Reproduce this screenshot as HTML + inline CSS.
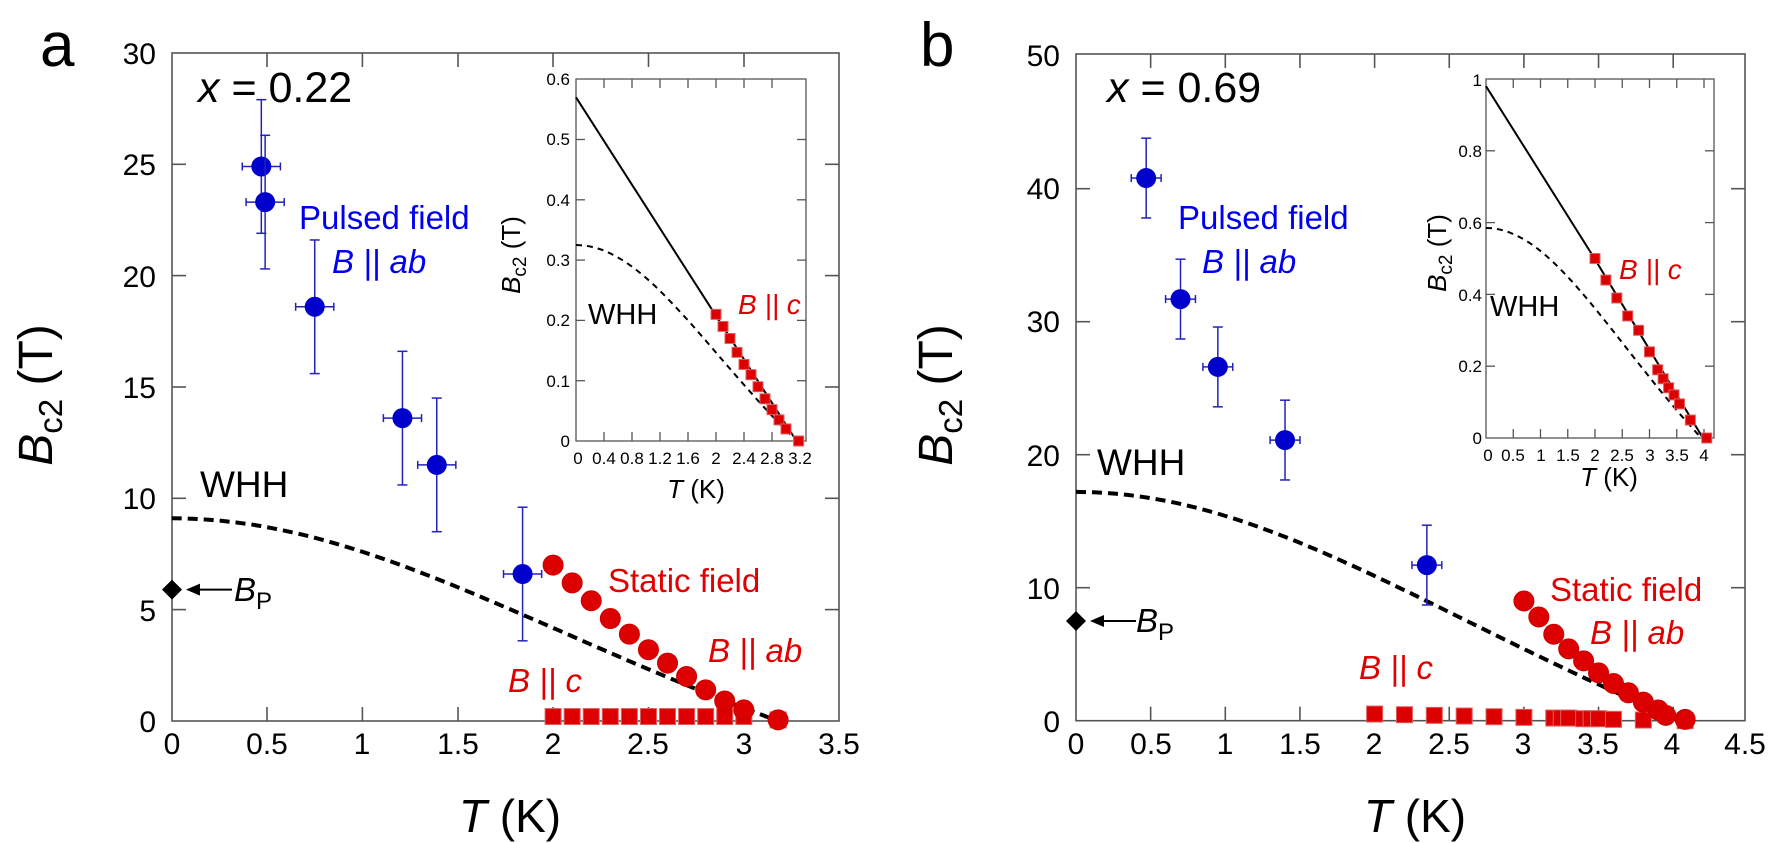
<!DOCTYPE html>
<html><head><meta charset="utf-8"><style>
html,body{margin:0;padding:0;background:#fff;}
svg{display:block;font-family:"Liberation Sans",Arial,sans-serif;}
</style></head><body>
<svg id="s" width="1770" height="843" viewBox="0 0 1770 843" xmlns="http://www.w3.org/2000/svg">
<g id="g"></g>
<!-- Panel a text -->
<text x="40" y="66" font-size="62">a</text>
<g font-size="30" text-anchor="end">
<text x="156" y="732">0</text><text x="156" y="621">5</text><text x="156" y="509">10</text>
<text x="156" y="398">15</text><text x="156" y="287">20</text><text x="156" y="175">25</text><text x="156" y="64">30</text>
</g>
<g font-size="30" text-anchor="middle">
<text x="172" y="754">0</text><text x="267" y="754">0.5</text><text x="362" y="754">1</text><text x="458" y="754">1.5</text>
<text x="553" y="754">2</text><text x="648" y="754">2.5</text><text x="744" y="754">3</text><text x="839" y="754">3.5</text>
</g>
<text x="198" y="102" font-size="43"><tspan font-style="italic">x</tspan> = 0.22</text>
<text x="510" y="832" font-size="46" text-anchor="middle"><tspan font-style="italic">T</tspan> (K)</text>
<text transform="translate(52,395) rotate(-90)" font-size="48" text-anchor="middle"><tspan font-style="italic">B</tspan><tspan font-size="33" dy="10">c2</tspan><tspan dy="-10"> (T)</tspan></text>
<text x="299" y="229" font-size="33" fill="#0000ee">Pulsed field</text>
<text x="332" y="273" font-size="33" fill="#0000ee" font-style="italic">B || ab</text>
<text x="200" y="497" font-size="37">WHH</text>
<text x="608" y="592" font-size="33" fill="#e00000">Static field</text>
<text x="708" y="662" font-size="33" fill="#e00000" font-style="italic">B || ab</text>
<text x="508" y="692" font-size="33" fill="#e00000" font-style="italic">B || c</text>
<text x="234" y="601" font-size="33"><tspan font-style="italic">B</tspan><tspan font-size="24" dy="8">P</tspan></text>
<!-- inset a text -->
<g font-size="17" text-anchor="end">
<text x="570" y="447">0</text><text x="570" y="387">0.1</text><text x="570" y="326">0.2</text><text x="570" y="266">0.3</text>
<text x="570" y="206">0.4</text><text x="570" y="145">0.5</text><text x="570" y="85">0.6</text>
</g>
<g font-size="17" text-anchor="middle">
<text x="578" y="464">0</text><text x="604" y="464">0.4</text><text x="632" y="464">0.8</text><text x="660" y="464">1.2</text>
<text x="688" y="464">1.6</text><text x="716" y="464">2</text><text x="744" y="464">2.4</text><text x="772" y="464">2.8</text><text x="800" y="464">3.2</text>
</g>
<text x="696" y="498" font-size="26" text-anchor="middle"><tspan font-style="italic">T</tspan> (K)</text>
<text transform="translate(520,255) rotate(-90)" font-size="26" text-anchor="middle"><tspan font-style="italic">B</tspan><tspan font-size="19" dy="6">c2</tspan><tspan dy="-6"> (T)</tspan></text>
<text x="588" y="324" font-size="29">WHH</text>
<text x="738" y="314" font-size="28" fill="#e00000" font-style="italic">B || c</text>

<!-- Panel b text -->
<text x="920" y="66" font-size="62">b</text>
<g font-size="30" text-anchor="end">
<text x="1060" y="732">0</text><text x="1060" y="599">10</text><text x="1060" y="466">20</text>
<text x="1060" y="332">30</text><text x="1060" y="199">40</text><text x="1060" y="66">50</text>
</g>
<g font-size="30" text-anchor="middle">
<text x="1076" y="754">0</text><text x="1151" y="754">0.5</text><text x="1225" y="754">1</text><text x="1300" y="754">1.5</text>
<text x="1374" y="754">2</text><text x="1449" y="754">2.5</text><text x="1523" y="754">3</text><text x="1598" y="754">3.5</text>
<text x="1672" y="754">4</text><text x="1745" y="754">4.5</text>
</g>
<text x="1107" y="102" font-size="43"><tspan font-style="italic">x</tspan> = 0.69</text>
<text x="1415" y="832" font-size="46" text-anchor="middle"><tspan font-style="italic">T</tspan> (K)</text>
<text transform="translate(952,395) rotate(-90)" font-size="48" text-anchor="middle"><tspan font-style="italic">B</tspan><tspan font-size="33" dy="10">c2</tspan><tspan dy="-10"> (T)</tspan></text>
<text x="1178" y="229" font-size="33" fill="#0000ee">Pulsed field</text>
<text x="1202" y="273" font-size="33" fill="#0000ee" font-style="italic">B || ab</text>
<text x="1097" y="475" font-size="37">WHH</text>
<text x="1550" y="601" font-size="33" fill="#e00000">Static field</text>
<text x="1590" y="644" font-size="33" fill="#e00000" font-style="italic">B || ab</text>
<text x="1359" y="679" font-size="33" fill="#e00000" font-style="italic">B || c</text>
<text x="1136" y="632" font-size="33"><tspan font-style="italic">B</tspan><tspan font-size="24" dy="8">P</tspan></text>
<!-- inset b text -->
<g font-size="17" text-anchor="end">
<text x="1482" y="444">0</text><text x="1482" y="372">0.2</text><text x="1482" y="301">0.4</text>
<text x="1482" y="229">0.6</text><text x="1482" y="157">0.8</text><text x="1482" y="86">1</text>
</g>
<g font-size="17" text-anchor="middle">
<text x="1488" y="461">0</text><text x="1513" y="461">0.5</text><text x="1541" y="461">1</text><text x="1568" y="461">1.5</text>
<text x="1595" y="461">2</text><text x="1622" y="461">2.5</text><text x="1650" y="461">3</text><text x="1677" y="461">3.5</text><text x="1704" y="461">4</text>
</g>
<text x="1609" y="486" font-size="26" text-anchor="middle"><tspan font-style="italic">T</tspan> (K)</text>
<text transform="translate(1446,253) rotate(-90)" font-size="26" text-anchor="middle"><tspan font-style="italic">B</tspan><tspan font-size="19" dy="6">c2</tspan><tspan dy="-6"> (T)</tspan></text>
<text x="1490" y="316" font-size="29">WHH</text>
<text x="1619" y="279" font-size="28" fill="#e00000" font-style="italic">B || c</text>
</svg>
<script>
var NS="http://www.w3.org/2000/svg",G=document.getElementById("g");
function el(t,a){var e=document.createElementNS(NS,t);for(var k in a)e.setAttribute(k,a[k]);G.appendChild(e);return e;}
function frame(x0,y0,x1,y1,xt,yt,len,sw){
 el("rect",{x:x0,y:y0,width:x1-x0,height:y1-y0,fill:"none",stroke:"#555","stroke-width":sw});
 xt.forEach(function(x){el("line",{x1:x,y1:y1,x2:x,y2:y1-len,stroke:"#555","stroke-width":sw});el("line",{x1:x,y1:y0,x2:x,y2:y0+len,stroke:"#555","stroke-width":sw});});
 yt.forEach(function(y){el("line",{x1:x0,y1:y,x2:x0+len,y2:y,stroke:"#555","stroke-width":sw});el("line",{x1:x1,y1:y,x2:x1-len,y2:y,stroke:"#555","stroke-width":sw});});
}
function path(pts,a){var d="M"+pts.map(function(p){return p[0].toFixed(1)+","+p[1].toFixed(1)}).join(" L");a.d=d;a.fill="none";return el("path",a);}
function whh(B0,Tc,X,Y,n){var p=[];for(var i=0;i<=n;i++){var T=Tc*i/n,t=T/Tc;p.push([X(T),Y(B0*(1-t*t)/(1+0.8*t*t))]);}return p;}
function circ(x,y,r){el("circle",{cx:x,cy:y,r:r,fill:"#dd0000",stroke:"#c00","stroke-width":1});}
function sq(x,y,s){el("rect",{x:x-s/2,y:y-s/2,width:s,height:s,fill:"#dd0000",stroke:"#e06060","stroke-width":1});}
function blue(X,Y,T,B,e){var c="#2222bb";
 el("line",{x1:X(T),y1:Y(B-e),x2:X(T),y2:Y(B+e),stroke:c,"stroke-width":1.5});
 el("line",{x1:X(T)-5,y1:Y(B-e),x2:X(T)+5,y2:Y(B-e),stroke:c,"stroke-width":1.5});
 el("line",{x1:X(T)-5,y1:Y(B+e),x2:X(T)+5,y2:Y(B+e),stroke:c,"stroke-width":1.5});
 el("line",{x1:X(T-0.1),y1:Y(B),x2:X(T+0.1),y2:Y(B),stroke:c,"stroke-width":1.5});
 el("line",{x1:X(T-0.1),y1:Y(B)-4,x2:X(T-0.1),y2:Y(B)+4,stroke:c,"stroke-width":1.5});
 el("line",{x1:X(T+0.1),y1:Y(B)-4,x2:X(T+0.1),y2:Y(B)+4,stroke:c,"stroke-width":1.5});
 el("circle",{cx:X(T),cy:Y(B),r:10,fill:"#0000cc"});}
function bp(x,y,x2){el("path",{d:"M"+(x-10)+","+y+" L"+x+","+(y-10)+" L"+(x+10)+","+y+" L"+x+","+(y+10)+"Z",fill:"#000"});
 el("line",{x1:x+22,y1:y,x2:x2,y2:y,stroke:"#000","stroke-width":2});
 el("path",{d:"M"+(x+14)+","+y+" L"+(x+28)+","+(y-6)+" L"+(x+28)+","+(y+6)+"Z",fill:"#000"});}

// Panel a
(function(){
var X=function(T){return 171.7+190.7*T},Y=function(B){return 721-22.27*B};
frame(172,53,839,721,[267,362.4,458,553,648.5,744],[609.6,498.3,387,275.6,164.3],14,1.6);
path(whh(9.1,3.18,X,Y,60),{stroke:"#000","stroke-width":4,"stroke-dasharray":"10,6"});
[[0.47,24.9],[0.49,23.3],[0.75,18.6],[1.21,13.6],[1.39,11.5],[1.84,6.6]].forEach(function(p){blue(X,Y,p[0],p[1],3);});
for(var i=0;i<=10;i++)sq(X(2+0.1*i),Y(0.2),16);sq(X(3.18),Y(0.05),16);
[[2,7],[2.1,6.2],[2.2,5.4],[2.3,4.6],[2.4,3.9],[2.5,3.2],[2.6,2.6],[2.7,2.0],[2.8,1.4],[2.9,0.9],[3.0,0.5],[3.18,0.05]].forEach(function(p){circ(X(p[0]),Y(p[1]),10);});
bp(172,Y(5.9),232);
var x=function(T){return 576+70*T},y=function(B){return 441-603*B};
el("rect",{x:576,y:79,width:230,height:362,fill:"#fff"});
var xt=[],yt=[];for(var k=1;k<8;k++)xt.push(x(0.4*k));for(k=1;k<6;k++)yt.push(y(0.1*k));
frame(576,79,806,441,xt,yt,9,1.3);
path(whh(0.325,3.15,x,y,50),{stroke:"#000","stroke-width":2,"stroke-dasharray":"6,5"});
path([[x(0),y(0.57)],[x(1.97),y(0.213)],[x(3.15),y(0)]],{stroke:"#000","stroke-width":2});
[[2,0.21],[2.1,0.19],[2.2,0.17],[2.3,0.147],[2.4,0.127],[2.5,0.11],[2.6,0.09],[2.7,0.07],[2.8,0.052],[2.9,0.035],[3.0,0.02],[3.18,0.0]].forEach(function(p){sq(x(p[0]),y(p[1]),10);});
})();

// Panel b
(function(){
var X=function(T){return 1076+149.3*T},Y=function(B){return 720.7-13.3*B};
var xt=[];for(var k=1;k<9;k++)xt.push(X(0.5*k));
frame(1076,54,1745,720.7,xt,[Y(10),Y(20),Y(30),Y(40)],14,1.6);
path(whh(17.2,4.05,X,Y,60),{stroke:"#000","stroke-width":4,"stroke-dasharray":"10,6"});
[[0.47,40.8],[0.7,31.7],[0.95,26.6],[1.4,21.1],[2.35,11.7]].forEach(function(p){blue(X,Y,p[0],p[1],3);});
[[2,0.5],[2.2,0.45],[2.4,0.4],[2.6,0.35],[2.8,0.3],[3.0,0.25],[3.2,0.2],[3.25,0.2],[3.3,0.2],[3.4,0.15],[3.45,0.15],[3.5,0.15],[3.6,0.1],[3.8,0.05],[4.08,0]].forEach(function(p){sq(X(p[0]),Y(p[1]),16);});
[[3,9],[3.1,7.8],[3.2,6.5],[3.3,5.4],[3.4,4.5],[3.5,3.6],[3.6,2.8],[3.7,2.1],[3.8,1.4],[3.9,0.8],[3.95,0.4],[4.08,0.1]].forEach(function(p){circ(X(p[0]),Y(p[1]),10);});
bp(1076,Y(7.5),1136);
var x=function(T){return 1486+54.5*T},y=function(B){return 438-359*B};
el("rect",{x:1486,y:79,width:228,height:359,fill:"#fff"});
var xt2=[],yt2=[];for(k=1;k<9;k++)xt2.push(x(0.5*k));for(k=1;k<5;k++)yt2.push(y(0.2*k));
frame(1486,79,1714,438,xt2,yt2,9,1.3);
path(whh(0.585,3.95,x,y,50),{stroke:"#000","stroke-width":2,"stroke-dasharray":"6,5"});
path([[x(0),y(0.98)],[x(1.97),y(0.505)],[x(3.98),y(0)]],{stroke:"#000","stroke-width":2});
[[2,0.5],[2.2,0.44],[2.4,0.39],[2.6,0.34],[2.8,0.3],[3.0,0.24],[3.15,0.19],[3.25,0.165],[3.35,0.14],[3.45,0.12],[3.55,0.095],[3.75,0.05],[4.05,0.0]].forEach(function(p){sq(x(p[0]),y(p[1]),10);});
})();
</script>
</body></html>
